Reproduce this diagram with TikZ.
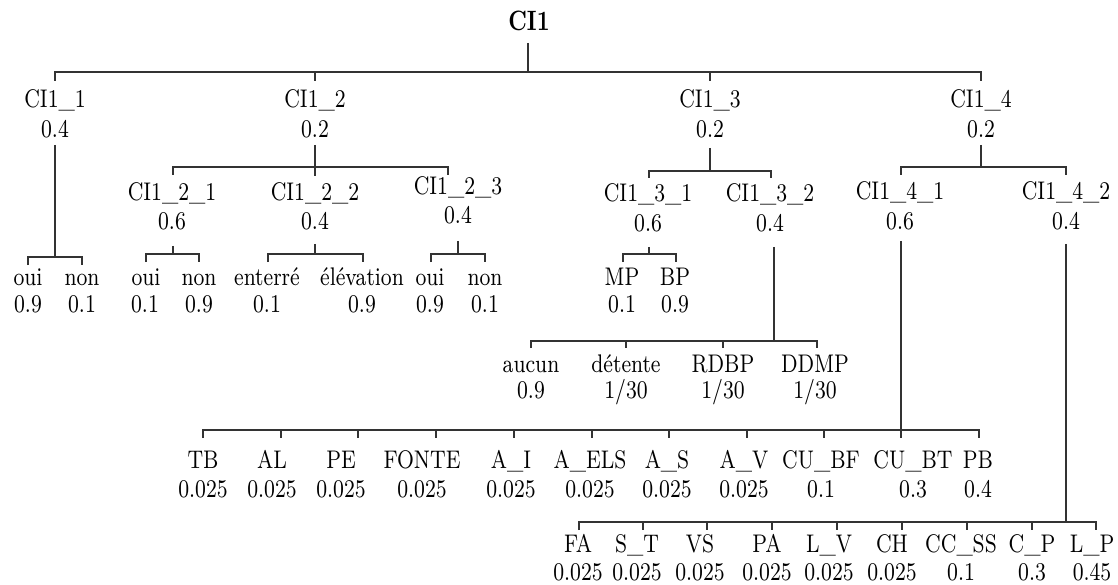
\documentclass[tikz,border=0pt]{standalone}
\usepackage{fontspec}
\setmainfont{lmroman8-regular.otf}[BoldFont=lmroman10-bold.otf, FakeStretch=0.8]
\begin{document}
\begin{tikzpicture}[x=1pt,y=-1pt,
  lab/.style={anchor=base, inner sep=0pt, font=\fontsize{25.5}{30}\selectfont},
  wire/.style={draw=black!80, line width=1.1pt}]
\useasboundingbox (0,0) rectangle (1118,585);

% ---------- text nodes ----------
\node[lab, font=\fontsize{28}{32}\selectfont\bfseries] (ci1) at (529,31) {CI1};

\node[lab] (a1) at (55,108) {CI1\_1};   \node[lab] (a1w) at (55,138) {0.4};
\node[lab] (a2) at (315,108) {CI1\_2};  \node[lab] (a2w) at (315,138) {0.2};
\node[lab] (a3) at (710,108) {CI1\_3};  \node[lab] (a3w) at (710,138) {0.2};
\node[lab] (a4) at (981,108) {CI1\_4};  \node[lab] (a4w) at (981,138) {0.2};

\node[lab] (b21) at (172,201) {CI1\_2\_1}; \node[lab] (b21w) at (172,230) {0.6};
\node[lab] (b22) at (315,201) {CI1\_2\_2}; \node[lab] (b22w) at (315,230) {0.4};
\node[lab] (b23) at (458,195) {CI1\_2\_3}; \node[lab] (b23w) at (458,224) {0.4};
\node[lab] (b31) at (648,202) {CI1\_3\_1}; \node[lab] (b31w) at (648,232) {0.6};
\node[lab] (b32) at (770,202) {CI1\_3\_2}; \node[lab] (b32w) at (770,232) {0.4};
\node[lab] (b41) at (900,200) {CI1\_4\_1}; \node[lab] (b41w) at (900,230) {0.6};
\node[lab] (b42) at (1066,200) {CI1\_4\_2}; \node[lab] (b42w) at (1066,230) {0.4};

% leaves of CI1_1, CI1_2_x, CI1_3_1
\node[lab] (c1a) at (28,285) {oui};  \node[lab] (c1aw) at (28,312) {0.9};
\node[lab] (c1b) at (82,285) {non};  \node[lab] (c1bw) at (82,312) {0.1};
\node[lab] (c21a) at (146,285) {oui}; \node[lab] (c21aw) at (145,312) {0.1};
\node[lab] (c21b) at (199,285) {non}; \node[lab] (c21bw) at (199,312) {0.9};
\node[lab] (c22a) at (267,285) {enterré};   \node[lab] (c22aw) at (267,312) {0.1};
\node[lab] (c22b) at (362,285) {élévation}; \node[lab] (c22bw) at (362,312) {0.9};
\node[lab] (c23a) at (430,285) {oui}; \node[lab] (c23aw) at (430,312) {0.9};
\node[lab] (c23b) at (485,285) {non}; \node[lab] (c23bw) at (485,312) {0.1};
\node[lab] (c31a) at (622,285) {MP};  \node[lab] (c31aw) at (622,312) {0.1};
\node[lab] (c31b) at (675,285) {BP};  \node[lab] (c31bw) at (675,312) {0.9};

% leaves of CI1_3_2
\node[lab] (d1) at (531,372) {aucun};   \node[lab] (d1w) at (531,398) {0.9};
\node[lab] (d2) at (626,372) {détente}; \node[lab] (d2w) at (626,398) {1/30};
\node[lab] (d3) at (723,372) {RDBP};    \node[lab] (d3w) at (723,398) {1/30};
\node[lab] (d4) at (815,372) {DDMP};    \node[lab] (d4w) at (815,398) {1/30};

% leaves of CI1_4_1
\foreach \n/\x/\t/\w in {e1/203/TB/0.025, e2/272/AL/0.025, e3/341/PE/0.025,
  e4/422/FONTE/0.025, e5/511/A\_I/0.025, e6/590/A\_ELS/0.025, e7/667/A\_S/0.025,
  e8/744/A\_V/0.025, e9/821/CU\_BF/0.1, e10/913/CU\_BT/0.3, e11/978/PB/0.4}
  {\node[lab] (\n) at (\x,468) {\t}; \node[lab] (\n w) at (\x,497) {\w};}

% leaves of CI1_4_2
\foreach \n/\x/\t/\w in {f1/578/FA/0.025, f2/637/S\_T/0.025, f3/700/VS/0.025,
  f4/767/PA/0.025, f5/829/L\_V/0.025, f6/892/CH/0.025, f7/961/CC\_SS/0.1,
  f8/1032/C\_P/0.3, f9/1092/L\_P/0.45}
  {\node[lab] (\n) at (\x,552) {\t}; \node[lab] (\n w) at (\x,580) {\w};}

% ---------- connectors ----------
% root
\coordinate (r0) at (528,43);
\draw[wire] (r0) -- (528,72);
\draw[wire] (55,81) -- (55,72) -- (981,72) -- (981,81);
\foreach \x in {315,710} \draw[wire] (\x,72) -- (\x,81);

% CI1_1
\coordinate (r1) at (55,145);
\draw[wire] (r1) -- (55,257);
\draw[draw=black!80, line width=2pt] (55,235) -- (55,257);
\draw[wire] (28,265) -- (28,257) -- (82,257) -- (82,265);

% CI1_2
\coordinate (r2) at (315,145);
\draw[wire] (r2) -- (315,176);
\draw[wire] (173,175) -- (173,167) -- (448,167) -- (448,175);

\coordinate (r21) at (173,246);
\draw[wire] (r21) -- (173,254);
\draw[wire] (146,262) -- (146,254) -- (199,254) -- (199,262);
\coordinate (r22) at (315,244);
\draw[wire] (r22) -- (315,254);
\draw[wire] (268,262) -- (268,254) -- (363,254) -- (363,262);
\coordinate (r23) at (458,241);
\draw[wire] (r23) -- (458,254);
\draw[wire] (431,262) -- (431,254) -- (485,254) -- (485,262);

% CI1_3
\coordinate (r3) at (710,148);
\draw[wire] (r3) -- (710,171);
\draw[wire] (649,178) -- (649,171) -- (771,171) -- (771,178);
\coordinate (r31) at (649,247);
\draw[wire] (r31) -- (649,254);
\draw[wire] (623,262) -- (623,254) -- (676,254) -- (676,262);
\coordinate (r32) at (774,247);
\draw[wire] (r32) -- (774,341);
\draw[wire] (531,348) -- (531,341) -- (817,341) -- (817,348);
\foreach \x in {626,723} \draw[wire] (\x,341) -- (\x,348);

% CI1_4
\coordinate (r4) at (981,145);
\draw[wire] (r4) -- (981,167);
\draw[wire] (901,175) -- (901,167) -- (1066,167) -- (1066,175);
\coordinate (r41) at (901,241);
\draw[wire] (r41) -- (901,438);
\draw[wire] (203,438) -- (203,430) -- (979,430) -- (979,438);
\foreach \x in {281,358,436,514,592,669,747,824} \draw[wire] (\x,430) -- (\x,438);
\coordinate (r42) at (1066,244);
\draw[wire] (r42) -- (1066,522);
\draw[wire] (579,530) -- (579,522) -- (1096,522) -- (1096,530);
\foreach \x in {643,707,772,837,902,967,1032} \draw[wire] (\x,522) -- (\x,530);
\end{tikzpicture}
\end{document}
